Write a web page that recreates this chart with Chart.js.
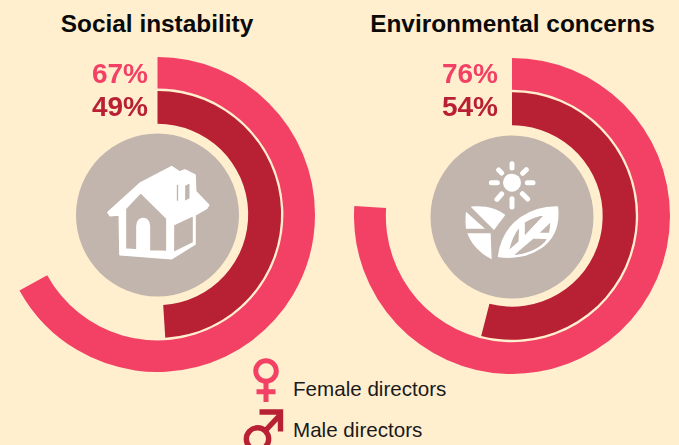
<!DOCTYPE html>
<html>
<head>
<meta charset="utf-8">
<script src="https://cdn.jsdelivr.net/npm/chart.js@4"></script>
<style>
html,body{margin:0;padding:0;background:#FFEFCF;overflow:hidden}
#page{position:relative;width:679px;height:445px;overflow:hidden;font-family:"Liberation Sans",Arial,sans-serif}
canvas{position:absolute}
svg{position:absolute;left:0;top:0}
.t{position:absolute;white-space:nowrap;line-height:1}
.title{font-weight:bold;font-size:24.4px;color:#0a0a0a;text-align:center}
.pct{font-weight:bold;font-size:28px;text-align:right}
.leg{font-size:20.6px;color:#1a1a1a}
</style>
</head>
<body>
<div id="page">
<svg width="679" height="445" viewBox="0 0 679 445">
  <circle cx="157.5" cy="215" r="81.5" fill="#C1B5AD"/>
  <circle cx="512" cy="217" r="81.5" fill="#C1B5AD"/>
  <g transform="translate(90,150) scale(0.3333)">
    <path fill="#fff" stroke="#fff" stroke-width="5" stroke-linejoin="round" fill-rule="evenodd" d="M54 187 L150 100 L245 50 L268 66 L285 60 L315 75 L317 125 L356 165 L350 175 L315 195 L315 282 L245 326 L90 314 L88 195 L60 197 Z
    M106 176 L152 127 L231 205 L231 305 L178 303 L178 228 C178 198 141 198 141 228 L141 300 L106 297 Z
    M250 224 L311 196 L311 278 L250 308 Z
    M258 100 L267 104 L267 157 L258 153 Z
    M283 106 L301 97 L301 146 L283 156 Z"/>
  </g>
  <g transform="translate(450,150) scale(0.3333)">
    <circle cx="186" cy="98" r="27" fill="#fff"/>
    <path stroke="#fff" stroke-width="15" stroke-linecap="round" fill="none" d="M186 41V54M232 98H249M186 146V171M124 98H142M146 60L155 69M229 59L218 70M141 148L155 132M217 131L233 147"/>
    <path fill="#fff" d="M62 170 C105 165 140 175 166 195 L132 240 Z"/>
    <path fill="#fff" d="M48 185 L105 236 L48 236 C46 220 46 200 48 185 Z"/>
    <path fill="#fff" d="M52 250 L122 250 L125 328 C90 310 65 285 52 250 Z"/>
    <path fill="#fff" stroke="#fff" stroke-width="5" stroke-linejoin="round" fill-rule="evenodd" d="M322 171 C250 170 160 210 146 319 C230 332 335 290 322 171 Z
    M287 193 L222 262 L222 216 C245 202 265 195 287 193 Z
    M210 226 L208 276 L175 305 C180 270 195 245 210 226 Z
    M303 213 L263 251 L299 250 C302 240 303 225 303 213 Z
    M205 301 L250 263 L295 265 C275 300 225 315 186 318 Z"/>
  </g>
  <g fill="none" stroke="#F24165" stroke-width="5">
    <circle cx="266" cy="371" r="10.3"/>
    <path d="M266 382V402M256.5 391.7H275.5"/>
  </g>
  <g fill="none" stroke="#B82034" stroke-width="5.4">
    <circle cx="257.5" cy="439" r="11.2"/>
    <path d="M265 431L280 415M259.5 412H280.5V431.5"/>
  </g>
</svg>
<canvas id="c0"></canvas>
<canvas id="c1"></canvas>
</div>
<script>
const categories = ["Social instability", "Environmental concerns"];
const femaleValues = [67, 76];
const maleValues = [49, 54];
const seriesNames = ["Female directors", "Male directors"];

const FEMALE = "#F24165", MALE = "#B82034";
const page = document.getElementById("page");
function text(cls, str, css) {
  const d = document.createElement("div");
  d.className = "t " + cls;
  d.textContent = str;
  Object.assign(d.style, css);
  page.appendChild(d);
}
const layouts = [
  {id:"c0", size:315, left:0,   top:57, titleX:157, pctRight:148},
  {id:"c1", size:316, left:354, top:58, titleX:512.5, pctRight:498}
];
layouts.forEach((l, i) => {
  const cv = document.getElementById(l.id);
  cv.style.left = l.left + "px";
  cv.style.top = l.top + "px";
  cv.width = l.size; cv.height = l.size;
  new Chart(cv, {
    type: "doughnut",
    data: {
      labels: [categories[i], "rest"],
      datasets: [
        {label: seriesNames[0], data: [femaleValues[i], 100 - femaleValues[i]], backgroundColor: [FEMALE, "rgba(0,0,0,0)"], weight: 31.7},
        {label: "gap", data: [100], backgroundColor: ["rgba(0,0,0,0)"], weight: 2.3},
        {label: seriesNames[1], data: [maleValues[i], 100 - maleValues[i]], backgroundColor: [MALE, "rgba(0,0,0,0)"], weight: 33}
      ]
    },
    options: {
      responsive: false,
      animation: false,
      devicePixelRatio: 1,
      cutout: 90.7,
      borderWidth: 0,
      elements: {arc: {borderWidth: 0}},
      layout: {padding: 0},
      plugins: {legend: {display: false}, tooltip: {enabled: false}}
    }
  });
  text("title", categories[i], {left: l.titleX + "px", top: "12px", transform: "translateX(-50%)"});
  text("pct", femaleValues[i] + "%", {right: (679 - l.pctRight) + "px", top: "59.5px", color: FEMALE});
  text("pct", maleValues[i] + "%", {right: (679 - l.pctRight) + "px", top: "92.5px", color: MALE});
});
text("leg", seriesNames[0], {left: "293px", top: "379px"});
text("leg", seriesNames[1], {left: "293px", top: "420px"});
</script>
</body>
</html>
